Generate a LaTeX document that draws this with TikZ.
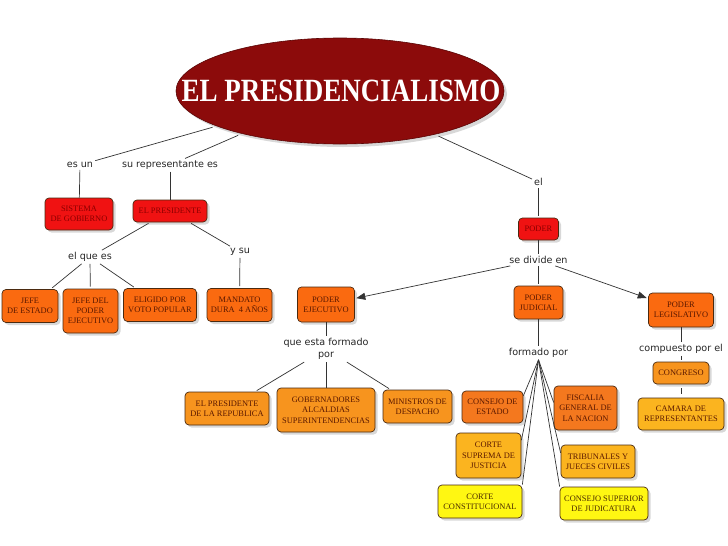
\documentclass[tikz,border=0pt]{standalone}
\usepackage{fontspec}
\newfontfamily\bxfont{Liberation Serif}
\newfontfamily\lbfont{DejaVu Sans}
\usetikzlibrary{shapes.geometric,shadows,arrows.meta}
\definecolor{ellred}{HTML}{8C0B0B}
\definecolor{ellborder}{HTML}{5A0505}
\definecolor{boxred}{HTML}{F01212}
\definecolor{redtext}{HTML}{8A0000}
\definecolor{boxor}{HTML}{FA6A10}
\definecolor{boxortwo}{HTML}{F4781E}
\definecolor{boxamber}{HTML}{F7941E}
\definecolor{boxlight}{HTML}{FBB41F}
\definecolor{boxyellow}{HTML}{FFF712}
\definecolor{bxborder}{HTML}{4A2A10}
\definecolor{bxtext}{HTML}{5A1800}
\definecolor{ytext}{HTML}{4A2A00}
\tikzset{
  lbl/.style={font=\lbfont\fontsize{9.6}{12.5}\selectfont, inner sep=2pt, align=center, text=black!85},
  box/.style={rounded corners=4pt, draw=bxborder, line width=0.7pt, align=center, inner sep=1.5pt,
    font=\bxfont\fontsize{8.4}{10.3}\selectfont,
    drop shadow={shadow xshift=2.5pt,shadow yshift=-2.5pt,opacity=0.3}},
  redbox/.style={box, fill=boxred, text=redtext},
  orbox/.style={box, fill=boxor, text=bxtext},
  ortwobox/.style={box, fill=boxortwo, text=bxtext},
  amberbox/.style={box, fill=boxamber, text=bxtext},
  lightbox/.style={box, fill=boxlight, text=bxtext},
  yelbox/.style={box, fill=boxyellow, text=ytext},
  conn/.style={draw=black!80, line width=0.7pt},
  arr/.style={conn, -{Triangle[length=9pt,width=7pt]}, shorten >=1.5pt},
}
\begin{document}
\begin{tikzpicture}[x=1pt,y=-1pt]
\fill[white] (0,0) rectangle (728,546);
\useasboundingbox (0,0) rectangle (728,546);

% title ellipse
\node[ellipse, minimum width=328pt, minimum height=106pt, fill=ellred, draw=ellborder, line width=0.6pt,
  drop shadow={shadow xshift=3pt,shadow yshift=-3pt,opacity=0.3}] (ell) at (340,91) {};
\node[text=white, font=\bxfont\bfseries\fontsize{27}{30}\selectfont, inner sep=0pt] (title) at (341,91)
  {\scalebox{1}[1.2]{EL PRESIDENCIALISMO}};

% labels
\node[lbl] (esun) at (80,165) {es un};
\node[lbl] (surep) at (170,165) {su representante es};
\node[lbl] (el) at (538.5,182) {el};
\node[lbl] (elqe) at (90,257) {el que es};
\node[lbl] (ysu) at (240,252) {y su};
\node[lbl] (sdv) at (538.5,260) {se divide en};
\node[lbl] (qef) at (326,349) {que esta formado\\por};
\node[lbl] (fp) at (538.5,353) {formado por};
\node[lbl] (comp) at (681,349) {compuesto por el};

% boxes
\node[redbox, minimum width=68pt, minimum height=32pt] (sis) at (79,214) {SISTEMA\\DE GOBIERNO};
\node[redbox, minimum width=74pt, minimum height=22pt] (pres) at (170,211) {EL PRESIDENTE};
\node[redbox, minimum width=40pt, minimum height=22pt] (poder) at (538.5,229) {PODER};

\node[orbox, minimum width=56pt, minimum height=33pt] (jefe) at (30,306) {JEFE\\DE ESTADO};
\node[orbox, minimum width=55pt, minimum height=44pt] (jdel) at (90.5,311) {JEFE DEL\\PODER\\EJECUTIVO};
\node[orbox, minimum width=73pt, minimum height=33pt] (elig) at (160,305) {ELIGIDO POR\\VOTO POPULAR};
\node[orbox, minimum width=65pt, minimum height=33pt] (mand) at (239.5,305) {MANDATO\\DURA\ \ 4 AÑOS};

\node[orbox, minimum width=57pt, minimum height=35pt] (pe) at (326,304.5) {PODER\\EJECUTIVO};
\node[orbox, minimum width=49pt, minimum height=33pt] (pj) at (538.5,302.5) {PODER\\JUDICIAL};
\node[orbox, minimum width=65pt, minimum height=34pt] (pl) at (681,310) {PODER\\LEGISLATIVO};

\node[amberbox, minimum width=84pt, minimum height=33pt] (prep) at (227,408.5) {EL PRESIDENTE\\DE LA REPUBLICA};
\node[amberbox, minimum width=98pt, minimum height=44pt] (gob) at (326,410) {GOBERNADORES\\ALCALDIAS\\SUPERINTENDENCIAS};
\node[amberbox, minimum width=69pt, minimum height=33pt] (mins) at (417.5,406.5) {MINISTROS DE\\DESPACHO};

\node[ortwobox, minimum width=61pt, minimum height=32pt] (ce) at (492.5,407) {CONSEJO DE\\ESTADO};
\node[ortwobox, minimum width=63pt, minimum height=44pt] (fg) at (585.5,408) {FISCALIA\\GENERAL DE\\LA NACION};
\node[lightbox, minimum width=65pt, minimum height=45pt] (cs) at (488.5,455.5) {CORTE\\SUPREMA DE\\JUSTICIA};
\node[lightbox, minimum width=74pt, minimum height=33pt] (tj) at (598,461.5) {TRIBUNALES Y\\JUECES CIVILES};
\node[yelbox, minimum width=84pt, minimum height=33pt] (cc) at (480,501.5) {CORTE\\CONSTITUCIONAL};
\node[yelbox, minimum width=88pt, minimum height=33pt] (csj) at (604,503.5) {CONSEJO SUPERIOR\\DE JUDICATURA};

\node[amberbox, minimum width=56pt, minimum height=22pt] (cong) at (681,373) {CONGRESO};
\node[lightbox, minimum width=86pt, minimum height=32pt] (cam) at (681,414) {CAMARA DE\\REPRESENTANTES};

% connectors
\draw[conn, shorten <=4pt] (ell) -- (esun);
\draw[conn, shorten <=4pt] (ell) -- (surep);
\draw[conn, shorten <=4pt] (ell) -- (el);
\draw[conn] (esun) -- (sis);
\draw[conn] (surep) -- (pres);
\draw[conn, shorten <=2pt] (pres) -- (elqe);
\draw[conn, shorten <=2pt] (pres) -- (ysu);
\draw[conn, shorten >=2pt] (elqe) -- (jefe);
\draw[conn, shorten >=2pt] (elqe) -- (jdel);
\draw[conn, shorten >=2pt] (elqe) -- (elig);
\draw[conn, shorten >=2pt] (ysu) -- (mand);
\draw[conn, shorten >=2pt] (el) -- (poder);
\draw[conn] (poder) -- (sdv);
\draw[arr] (sdv) -- (pe);
\draw[conn, shorten >=2pt] (sdv) -- (pj);
\draw[arr] (sdv) -- (pl);
\draw[conn] (pe) -- (qef);
\draw[conn, shorten >=2pt] (qef) -- (prep);
\draw[conn] (qef) -- (gob);
\draw[conn, shorten >=2pt] (qef) -- (mins);
\draw[conn] (pj) -- (fp);
\draw[conn] (fp.south) -- (ce.20);
\draw[conn] (fp.south) -- (cs.25);
\draw[conn] (fp.south) -- (cc.north east);
\draw[conn] (fp.south) -- (fg.170);
\draw[conn] (fp.south) -- (tj.167);
\draw[conn] (fp.south) -- (csj.north west);
\draw[conn] (pl) -- (comp);
\draw[conn, shorten >=2pt] (comp) -- (cong);
\draw[conn, shorten >=4pt, shorten <=4pt] (cong) -- (cam);
\end{tikzpicture}
\end{document}
